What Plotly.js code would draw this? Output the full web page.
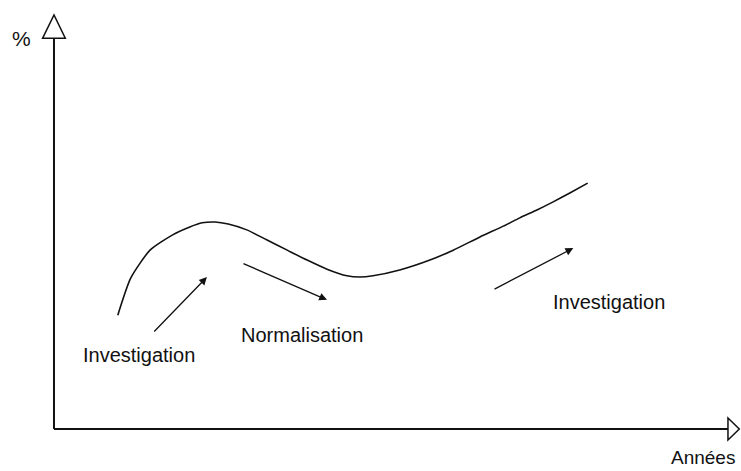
<!DOCTYPE html>
<html>
<head>
<meta charset="utf-8">
<script src="https://cdn.plot.ly/plotly-3.0.1.min.js"></script>
<style>
  body { margin: 0; background: #fff; }
  #plot { width: 741px; height: 471px; }
</style>
</head>
<body>
<div id="plot"></div>
<script>
// curve (x = années, y = %), arbitrary units, origin at the axes corner
var curveX = [9.3, 11.2, 14.0, 17.3, 19.8, 21.6, 23.5, 25.4, 28.1, 31.0, 34.0, 36.9, 39.8, 42.7, 44.6, 46.5, 50.4, 54.8, 58.2, 62.1, 65.5, 67.9, 70.4, 72.7, 75.2, 77.8];
var curveY = [27.5, 36.5, 43.2, 46.9, 48.8, 49.8, 50.0, 49.5, 48.1, 45.7, 43.2, 40.8, 38.6, 37.0, 36.7, 37.0, 38.4, 40.8, 43.2, 46.4, 49.0, 51.0, 52.9, 54.8, 57.0, 59.4];

// phase arrows: [tailX, tailY, headX, headY]
var phaseArrows = [
  [14.4, 23.2, 22.3, 36.7],
  [27.4, 40.1, 39.8, 31.2],
  [64.0, 33.6, 75.7, 43.7]
];

var phaseLabels = ["Investigation", "Normalisation", "Investigation"];
var labelX = [12.4, 36.2, 80.9];
var labelY = [17.9, 22.7, 30.7];

var trace = {
  x: curveX,
  y: curveY,
  mode: "lines",
  line: { color: "#111", width: 1.6, shape: "spline", smoothing: 0.6 },
  hoverinfo: "skip"
};

var textFont = { family: "Liberation Sans, Arial, sans-serif", size: 20, color: "#111" };

var annotations = [];
phaseArrows.forEach(function (a) {
  annotations.push({
    x: a[2], y: a[3], ax: a[0], ay: a[1],
    xref: "x", yref: "y", axref: "x", ayref: "y",
    text: "", showarrow: true,
    arrowhead: 2, arrowsize: 1.2, arrowwidth: 1.3, arrowcolor: "#111"
  });
});
phaseLabels.forEach(function (t, i) {
  annotations.push({
    x: labelX[i], y: labelY[i], xref: "x", yref: "y",
    text: t, showarrow: false, font: textFont
  });
});
annotations.push({
  x: -4.8, y: 94.4, xref: "x", yref: "y", text: "%", showarrow: false,
  font: { family: "Liberation Sans, Arial, sans-serif", size: 21, color: "#111" }
});
annotations.push({
  x: 99.6, y: -10.0, xref: "x", yref: "y", xanchor: "right", yanchor: "bottom",
  text: "Années", showarrow: false,
  font: { family: "Liberation Sans, Arial, sans-serif", size: 19, color: "#111" }
});

var axisLine = { color: "#111", width: 2 };
var shapes = [
  { type: "line", xref: "x", yref: "y", x0: 0, y0: 0, x1: 0, y1: 94.4, line: axisLine },
  { type: "line", xref: "x", yref: "y", x0: 0, y0: 0, x1: 98.25, y1: 0, line: axisLine },
  // hollow arrowheads
  { type: "path", xref: "x", yref: "y", path: "M -1.65 94.4 L 0 100 L 1.65 94.4 Z",
    line: { color: "#111", width: 1.5 }, fillcolor: "#fff" },
  { type: "path", xref: "x", yref: "y", path: "M 98.25 -2.66 L 99.9 0 L 98.25 2.66 Z",
    line: { color: "#111", width: 1.5 }, fillcolor: "#fff" }
];

var layout = {
  width: 741,
  height: 471,
  margin: { l: 0, r: 0, t: 0, b: 0 },
  paper_bgcolor: "#fff",
  plot_bgcolor: "#fff",
  showlegend: false,
  xaxis: { range: [-7.87, 100.15], visible: false, fixedrange: true },
  yaxis: { range: [-10.14, 103.62], visible: false, fixedrange: true },
  shapes: shapes,
  annotations: annotations
};

Plotly.newPlot("plot", [trace], layout, { staticPlot: true });
</script>
</body>
</html>
